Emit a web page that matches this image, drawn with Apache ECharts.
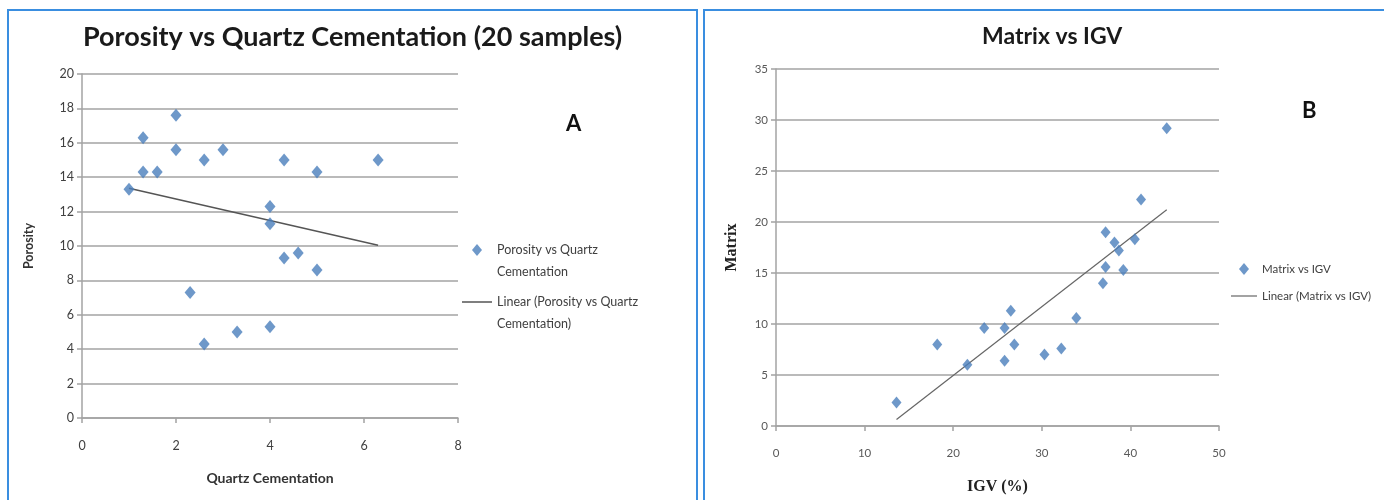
<!DOCTYPE html>
<html>
<head>
<meta charset="utf-8">
<script src="https://cdn.jsdelivr.net/npm/echarts@6/dist/echarts.min.js"></script>
<style>
html,body{margin:0;padding:0;background:#fff;}
#c{width:1384px;height:500px;}
</style>
</head>
<body>
<div id="c"></div>
<script>
// ---- Chart A: Porosity vs Quartz Cementation ----
const quartzCementation = [1.0, 1.3, 1.3, 1.6, 2.0, 2.0, 2.6, 3.0, 4.3, 5.0, 6.3, 4.0, 4.0, 4.3, 4.6, 5.0, 2.3, 2.6, 3.3, 4.0];
const porosity          = [13.3, 16.3, 14.3, 14.3, 17.6, 15.6, 15.0, 15.6, 15.0, 14.3, 15.0, 12.3, 11.3, 9.3, 9.6, 8.6, 7.3, 4.3, 5.0, 5.3];
const xTicksA = [0, 2, 4, 6, 8];
const yTicksA = [0, 2, 4, 6, 8, 10, 12, 14, 16, 18, 20];

// ---- Chart B: Matrix vs IGV ----
const igv    = [13.6, 18.2, 21.6, 23.5, 25.8, 26.5, 25.8, 26.9, 30.3, 32.2, 33.9, 41.2, 37.2, 38.2, 38.7, 40.5, 37.2, 39.2, 36.9, 44.1];
const matrix = [2.3, 8.0, 6.0, 9.6, 9.6, 11.3, 6.4, 8.0, 7.0, 7.6, 10.6, 22.2, 19.0, 18.0, 17.2, 18.3, 15.6, 15.3, 14.0, 29.2];
const xTicksB = [0, 10, 20, 30, 40, 50];
const yTicksB = [0, 5, 10, 15, 20, 25, 30, 35];

function linearFit(xs, ys) {
  const n = xs.length;
  const mx = xs.reduce((a, b) => a + b, 0) / n;
  const my = ys.reduce((a, b) => a + b, 0) / n;
  let sxy = 0, sxx = 0;
  for (let i = 0; i < n; i++) { sxy += (xs[i] - mx) * (ys[i] - my); sxx += (xs[i] - mx) ** 2; }
  const b = sxy / sxx, a = my - b * mx;
  const x0 = Math.min(...xs), x1 = Math.max(...xs);
  return [[x0, a + b * x0], [x1, a + b * x1]];
}
const pairs = (xs, ys) => xs.map((x, i) => [x, ys[i]]);

const sansFont = 'Lato, "Open Sans", sans-serif';
const serifFont = '"Liberation Serif", "DejaVu Serif", serif';
const gridColor = '#a3a3a3';
const markerColor = '#4a7ebb';

function axisCommon(min, max, interval, labelColor, labelSize, margin, font) {
  return {
    type: 'value', min: min, max: max, interval: interval,
    axisLine: { show: true, lineStyle: { color: gridColor, width: 1.5 } },
    axisTick: { show: true, inside: false, length: 5, lineStyle: { color: gridColor, width: 1.5 } },
    axisLabel: { color: labelColor, fontSize: labelSize, fontFamily: font, margin: margin },
    splitLine: { show: false }
  };
}

// legend icons (top-aligned so they sit on the first line of two-line labels)
const iconDiamondTall = 'path://M5,0L5,0M5,5L10,11L5,17L0,11ZM5,44L5,44';
const iconLineTall = 'path://M0,10.3H30V11.7H0ZM0,0L0,0M0,44L0,44';
const iconDiamond = 'path://M5,0L10,6L5,12L0,6Z';
const iconLine = 'path://M0,5.4H26V6.6H0ZM0,0L0,0M0,12L0,12';

const chart = echarts.init(document.getElementById('c'), null, { renderer: 'canvas' });
chart.setOption({
  backgroundColor: '#ffffff',
  animation: false,
  title: [
    { text: 'Porosity vs Quartz Cementation (20 samples)', left: 78, top: 19,
      textStyle: { fontFamily: sansFont, fontWeight: 'bold', fontSize: 27, color: '#1a1a1a' } },
    { text: 'Matrix vs IGV', left: 977, top: 20,
      textStyle: { fontFamily: sansFont, fontWeight: 'bold', fontSize: 23, color: '#1a1a1a' } }
  ],
  legend: [
    { orient: 'vertical', left: 457, top: 234, itemGap: 8, itemWidth: 30, itemHeight: 44,
      data: [
        { name: 'Porosity vs Quartz Cementation', icon: iconDiamondTall },
        { name: 'Linear (Porosity vs Quartz Cementation)', icon: iconLineTall }
      ],
      formatter: function (name) {
        return name === 'Porosity vs Quartz Cementation' ? 'Porosity vs Quartz\nCementation' : 'Linear (Porosity vs Quartz\nCementation)';
      },
      textStyle: { fontFamily: sansFont, fontSize: 12.5, color: '#404040', lineHeight: 22 } },
    { orient: 'vertical', left: 1226, top: 258, itemGap: 15, itemWidth: 26, itemHeight: 12,
      data: [
        { name: 'Matrix vs IGV', icon: iconDiamond },
        { name: 'Linear (Matrix vs IGV)', icon: iconLine }
      ],
      textStyle: { fontFamily: sansFont, fontSize: 11.5, color: '#404040' } }
  ],
  grid: [
    { left: 82, top: 74, width: 376, height: 344 },
    { left: 776, top: 69, width: 443, height: 358 }
  ],
  xAxis: [
    Object.assign(axisCommon(xTicksA[0], xTicksA[xTicksA.length - 1], xTicksA[1] - xTicksA[0], '#404040', 12.5, 21, sansFont), {
      gridIndex: 0, name: 'Quartz Cementation', nameLocation: 'middle', nameGap: 53,
      nameTextStyle: { fontFamily: sansFont, fontWeight: 'bold', fontSize: 14, color: '#333' } }),
    Object.assign(axisCommon(xTicksB[0], xTicksB[xTicksB.length - 1], xTicksB[1] - xTicksB[0], '#595959', 11.5, 21, sansFont), {
      gridIndex: 1, name: 'IGV (%)', nameLocation: 'middle', nameGap: 53,
      nameTextStyle: { fontFamily: serifFont, fontWeight: 'bold', fontSize: 16, color: '#222' } })
  ],
  yAxis: [
    Object.assign(axisCommon(yTicksA[0], yTicksA[yTicksA.length - 1], yTicksA[1] - yTicksA[0], '#404040', 12.5, 8, sansFont), {
      gridIndex: 0, name: 'Porosity', nameLocation: 'middle', nameGap: 47,
      nameTextStyle: { fontFamily: sansFont, fontWeight: 'bold', fontSize: 12.5, color: '#333' },
      splitLine: { show: true, lineStyle: { color: gridColor, width: 1.5 } } }),
    Object.assign(axisCommon(yTicksB[0], yTicksB[yTicksB.length - 1], yTicksB[1] - yTicksB[0], '#595959', 11.5, 8, sansFont), {
      gridIndex: 1, name: 'Matrix', nameLocation: 'middle', nameGap: 36,
      nameTextStyle: { fontFamily: serifFont, fontWeight: 'bold', fontSize: 16, color: '#222' },
      splitLine: { show: true, lineStyle: { color: gridColor, width: 1.5 } } })
  ],
  series: [
    { name: 'Porosity vs Quartz Cementation', type: 'scatter', xAxisIndex: 0, yAxisIndex: 0,
      symbol: 'diamond', symbolSize: [11, 13], itemStyle: { color: markerColor },
      data: pairs(quartzCementation, porosity), z: 3 },
    { name: 'Linear (Porosity vs Quartz Cementation)', type: 'line', xAxisIndex: 0, yAxisIndex: 0,
      symbol: 'none', lineStyle: { color: '#555', width: 1.5 }, itemStyle: { color: '#555' },
      data: linearFit(quartzCementation, porosity), z: 2 },
    { name: 'Matrix vs IGV', type: 'scatter', xAxisIndex: 1, yAxisIndex: 1,
      symbol: 'diamond', symbolSize: [10, 12], itemStyle: { color: markerColor },
      data: pairs(igv, matrix), z: 3 },
    { name: 'Linear (Matrix vs IGV)', type: 'line', xAxisIndex: 1, yAxisIndex: 1,
      symbol: 'none', lineStyle: { color: '#666', width: 1.2 }, itemStyle: { color: '#666' },
      data: linearFit(igv, matrix), z: 2 }
  ],
  graphic: [
    { type: 'rect', shape: { x: 8, y: 10, width: 689, height: 520 }, style: { fill: 'none', stroke: '#3a8ee0', lineWidth: 2 }, silent: true },
    { type: 'rect', shape: { x: 704, y: 10, width: 720, height: 520 }, style: { fill: 'none', stroke: '#3a8ee0', lineWidth: 2 }, silent: true },
    { type: 'text', left: 566, top: 113, style: { text: 'A', font: 'bold 22px ' + sansFont, fill: '#111' } },
    { type: 'text', left: 1302, top: 100, style: { text: 'B', font: 'bold 22px ' + sansFont, fill: '#111' } }
  ]
});
</script>
</body>
</html>
